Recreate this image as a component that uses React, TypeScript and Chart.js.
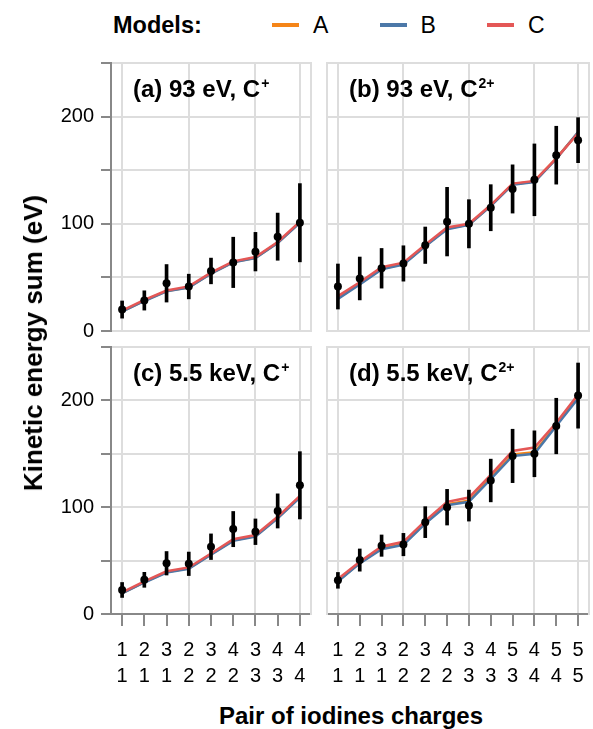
import React, { useEffect, useRef } from "react";
import { Chart, registerables } from "chart.js";

Chart.register(...registerables);

const FONT = "'Liberation Sans', Arial, Helvetica, sans-serif";
const GRID = "#dddddd";
const AXIS = "#888888";
const COLOR_A = "#f58518";
const COLOR_B = "#4c78a8";
const COLOR_C = "#e45756";

// ---- tick labels ----
const yLabeledTicks = [0, 100, 200];
const chargesFirst9 = ["1", "2", "3", "2", "3", "4", "3", "4", "4"];
const chargesSecond9 = ["1", "1", "1", "2", "2", "2", "3", "3", "4"];
const chargesFirst12 = ["1", "2", "3", "2", "3", "4", "3", "4", "5", "4", "5", "5"];
const chargesSecond12 = ["1", "1", "1", "2", "2", "2", "3", "3", "3", "4", "4", "5"];

// ---- (a) 93 eV, C+ ----
const expMeanA = [20, 28.5, 44.5, 41.5, 56, 64, 74, 88, 101];
const expErrA = [8, 9, 17.5, 11.5, 12, 23.5, 18, 22, 36.5];
const modelA_a = [18.3, 28.3, 37.2, 40.8, 53.8, 64.3, 68.3, 82.3, 101.3];
const modelB_a = [18, 28, 37, 40.5, 53.5, 64, 68, 82, 101];
const modelC_a = [19, 29, 37.8, 41.6, 54.4, 65, 69, 83, 102];

// ---- (b) 93 eV, C2+ ----
const expMeanB = [41.5, 49, 58.5, 63, 80, 102, 100, 115, 132.5, 141, 164, 178];
const expErrB = [21, 20, 18.5, 16.5, 17, 32, 22.5, 21.5, 22.5, 33.5, 27, 21];
const modelA_b = [30.5, 44, 58, 62.5, 79.5, 95.5, 99.3, 117, 137, 139.5, 161, 185];
const modelB_b = [30, 43.5, 57.5, 62, 79, 95, 99, 116.5, 136.5, 139, 160.5, 185.5];
const modelC_b = [32.5, 45.5, 59.5, 63.8, 80.5, 96.5, 100, 117.5, 137.5, 140, 161, 184.5];

// ---- (c) 5.5 keV, C+ ----
const expMeanC = [22.5, 32, 47.5, 47, 63, 79.5, 77, 96.5, 120.5];
const expErrC = [7, 7, 11, 11, 12, 16.5, 12, 16, 31.5];
const modelA_c = [19.5, 29.8, 39.2, 42.7, 56, 69, 73, 90, 109.6];
const modelB_c = [19.2, 29.5, 38.8, 42.2, 55.5, 68.5, 72.5, 89.5, 109];
const modelC_c = [20.2, 30.5, 40, 43.6, 56.7, 70, 74, 91, 110.6];

// ---- (d) 5.5 keV, C2+ ----
const expMeanD = [31.5, 50.5, 64, 65, 86, 100, 101.5, 125, 148, 150, 176, 204.5];
const expErrD = [7.4, 10.4, 10, 10.5, 14.5, 16.7, 14.5, 20, 25, 21.5, 26, 30.5];
const modelA_d = [31, 47.8, 61.5, 65.5, 85.5, 102.8, 106, 127.5, 149.5, 151.5, 177, 203];
const modelB_d = [30.5, 47.4, 60.7, 64.8, 84.7, 101.9, 105, 126.2, 148, 150, 176, 201.9];
const modelC_d = [32.7, 48.9, 63.2, 67.6, 87.2, 105, 109, 130.2, 152.6, 155.8, 179.1, 205.6];

type PanelData = {
  first: string[];
  second: string[];
  mean: number[];
  err: number[];
  a: number[];
  b: number[];
  c: number[];
};

const panelA: PanelData = { first: chargesFirst9, second: chargesSecond9, mean: expMeanA, err: expErrA, a: modelA_a, b: modelB_a, c: modelC_a };
const panelB: PanelData = { first: chargesFirst12, second: chargesSecond12, mean: expMeanB, err: expErrB, a: modelA_b, b: modelB_b, c: modelC_b };
const panelC: PanelData = { first: chargesFirst9, second: chargesSecond9, mean: expMeanC, err: expErrC, a: modelA_c, b: modelB_c, c: modelC_c };
const panelD: PanelData = { first: chargesFirst12, second: chargesSecond12, mean: expMeanD, err: expErrD, a: modelA_d, b: modelB_d, c: modelC_d };

type PanelProps = {
  data: PanelData;
  showY: boolean;
  showX: boolean;
  left: number;
  top: number;
  width: number;
  height: number;
  padTop: number;
  padRight: number;
  padBottom: number;
  yWidth: number;
  xHeight: number;
};

function Panel(props: PanelProps) {
  const ref = useRef<HTMLCanvasElement | null>(null);
  useEffect(() => {
    const { data, showY, showX } = props;
    const n = data.first.length;
    const labels = data.first.map((f, i) => [f, data.second[i]]);
    const lineDs = (label: string, values: number[], color: string) => ({
      type: "line" as const,
      label,
      data: values,
      borderColor: color,
      backgroundColor: color,
      borderWidth: 2.5,
      pointRadius: 0,
      pointHoverRadius: 0,
      fill: false,
      tension: 0,
    });
    const chart = new Chart(ref.current as HTMLCanvasElement, {
      type: "line",
      data: {
        labels,
        datasets: [
          {
            type: "line",
            label: "Experiment",
            data: data.mean,
            showLine: false,
            pointRadius: 4,
            pointHoverRadius: 4,
            pointBackgroundColor: "#000",
            pointBorderColor: "#000",
            pointBorderWidth: 0,
            borderColor: "#000",
            backgroundColor: "#000",
          } as any,
          {
            type: "bar",
            label: "Error",
            data: data.mean.map((m, i) => [m - data.err[i], m + data.err[i]]),
            backgroundColor: "#000",
            borderWidth: 0,
            barThickness: 3,
            grouped: false,
          } as any,
          lineDs("C", data.c, COLOR_C) as any,
          lineDs("B", data.b, COLOR_B) as any,
          lineDs("A", data.a, COLOR_A) as any,
        ],
      },
      options: {
        responsive: false,
        animation: false,
        events: [],
        layout: { padding: { top: props.padTop, right: props.padRight, bottom: props.padBottom, left: 0 } },
        plugins: { legend: { display: false }, tooltip: { enabled: false }, title: { display: false } },
        scales: {
          x: {
            type: "category",
            offset: true,
            grid: {
              offset: false,
              color: (ctx: any) => (ctx.index % 3 === 0 || ctx.index === n - 1 ? GRID : "rgba(0,0,0,0)"),
              lineWidth: 2,
              drawTicks: showX,
              tickLength: 12,
              tickColor: AXIS,
              tickWidth: 2,
            },
            border: { display: showX, color: AXIS, width: 2 },
            ticks: {
              display: showX,
              autoSkip: false,
              maxRotation: 0,
              minRotation: 0,
              color: "#000",
              font: { size: 20, family: FONT, lineHeight: 1.3 },
              padding: 11,
            },
            afterFit: (s: any) => {
              s.height = props.xHeight;
              s.paddingLeft = 0;
              s.paddingRight = 0;
            },
          } as any,
          y: {
            type: "linear",
            min: 0,
            max: 250,
            ticks: {
              stepSize: 50,
              display: showY,
              callback: (v: any) => (yLabeledTicks.includes(Number(v)) ? String(v) : ""),
              color: "#000",
              font: { size: 20, family: FONT },
              padding: 7,
            },
            grid: {
              color: GRID,
              lineWidth: 2,
              drawTicks: showY,
              tickLength: 10,
              tickColor: AXIS,
              tickWidth: 2,
            },
            border: { color: showY ? AXIS : GRID, width: 2 },
            afterFit: (s: any) => {
              s.width = props.yWidth;
              s.paddingTop = 0;
              s.paddingBottom = 0;
            },
          } as any,
          y2: {
            type: "linear",
            position: "right",
            grid: { display: false, drawTicks: false },
            ticks: { display: false },
            border: { color: GRID, width: 2 },
            afterFit: (s: any) => {
              s.width = 0;
              s.paddingTop = 0;
              s.paddingBottom = 0;
            },
          } as any,
        },
      },
    });
    return () => chart.destroy();
  }, []);
  return (
    <canvas
      ref={ref}
      width={props.width}
      height={props.height}
      style={{ position: "absolute", left: props.left, top: props.top, width: props.width, height: props.height }}
    />
  );
}

const boldText: React.CSSProperties = {
  position: "absolute",
  fontFamily: FONT,
  fontWeight: "bold",
  fontSize: 24,
  lineHeight: "24px",
  whiteSpace: "nowrap",
  color: "#000",
};

function PanelTitle({ left, top, main, sup }: { left: number; top: number; main: string; sup: string }) {
  return (
    <div style={{ ...boldText, left, top }}>
      {main}
      <span style={{ fontSize: 14, position: "relative", top: -9, marginLeft: 1 }}>{sup}</span>
    </div>
  );
}

const legendItems = [
  { label: "A", color: COLOR_A },
  { label: "B", color: COLOR_B },
  { label: "C", color: COLOR_C },
];

export default function App() {
  return (
    <div style={{ position: "absolute", left: 0, top: 0, width: 593, height: 729, background: "#fff", overflow: "hidden" }}>
      {/* Legend */}
      <div style={{ ...boldText, left: 113, top: 13, fontSize: 23.5 }}>Models:</div>
      {legendItems.map((it, i) => (
        <React.Fragment key={it.label}>
          <div style={{ position: "absolute", left: 272 + i * 107.5, top: 23, width: 27, height: 4, background: it.color }} />
          <div
            style={{
              position: "absolute",
              left: 313 + i * 107.5,
              top: 13,
              fontFamily: FONT,
              fontSize: 23,
              lineHeight: "24px",
              color: "#000",
            }}
          >
            {it.label}
          </div>
        </React.Fragment>
      ))}

      <Panel data={panelA} showY={true} showX={false} left={40} top={55} width={280} height={285}
        padTop={8} padRight={9} padBottom={9} yWidth={71} xHeight={0} />
      <Panel data={panelB} showY={false} showX={false} left={320} top={55} width={273} height={285}
        padTop={8} padRight={1} padBottom={9} yWidth={7} xHeight={0} />
      <Panel data={panelC} showY={true} showX={true} left={40} top={340} width={280} height={350}
        padTop={7} padRight={9} padBottom={0} yWidth={71} xHeight={76} />
      <Panel data={panelD} showY={false} showX={true} left={320} top={340} width={273} height={350}
        padTop={7} padRight={1} padBottom={0} yWidth={7} xHeight={76} />

      <PanelTitle left={133} top={77} main="(a) 93 eV, C" sup="+" />
      <PanelTitle left={349} top={77} main="(b) 93 eV, C" sup="2+" />
      <PanelTitle left={133} top={361} main="(c) 5.5 keV, C" sup="+" />
      <PanelTitle left={349} top={361} main="(d) 5.5 keV, C" sup="2+" />

      {/* Axis titles */}
      <div
        style={{
          ...boldText,
          fontSize: 26,
          lineHeight: "26px",
          left: 33,
          top: 343,
          transform: "translate(-50%, -50%) rotate(-90deg)",
        }}
      >
        Kinetic energy sum (eV)
      </div>
      <div style={{ ...boldText, left: 351, top: 704, transform: "translateX(-50%)" }}>Pair of iodines charges</div>
    </div>
  );
}
